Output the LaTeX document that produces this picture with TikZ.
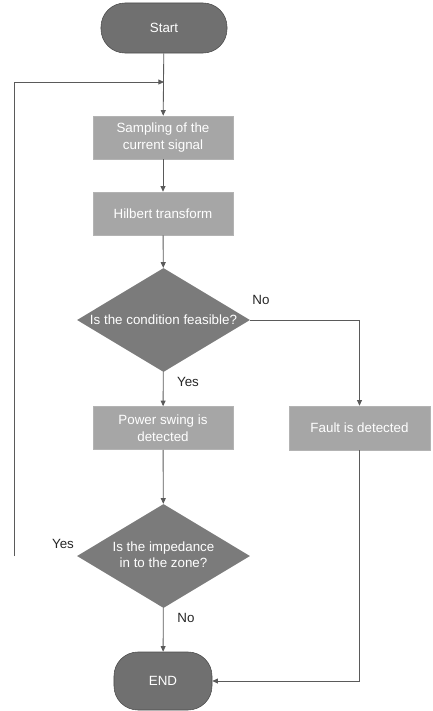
\documentclass[tikz,border=0pt]{standalone}
\usepackage{fontspec}
\setmainfont{Liberation Sans}
\usetikzlibrary{shapes.geometric}
\usetikzlibrary{arrows.meta}

\definecolor{termgray}{HTML}{707070}
\definecolor{boxgray}{HTML}{A6A6A6}
\definecolor{decgray}{HTML}{7B7B7B}
\definecolor{linegray}{HTML}{5A5A5A}

\newcommand{\chartfont}{\fontsize{9.5}{11.8}\selectfont}

\tikzset{
  terminal/.style={draw=black!70, fill=termgray, rounded corners=0.6cm,
    minimum width=3.15cm, minimum height=1.25cm, text=white, font=\chartfont},
  process/.style={fill=boxgray, draw=boxgray!85!white, minimum width=3.5cm,
    minimum height=1.075cm, align=center, text=white, font=\chartfont},
  decision/.style={diamond, fill=decgray, minimum width=4.325cm,
    minimum height=2.6cm, inner sep=0pt, text=white, font=\chartfont},
  flow/.style={draw=linegray, line width=0.6pt, -{Triangle[length=4pt,width=3.5pt]}},
  answer/.style={text=black!85, font=\chartfont}
}

\begin{document}
\begin{tikzpicture}[x=0.025cm, y=-0.025cm]
\useasboundingbox (0,0) rectangle (433,711);

% Start and end of the chart
\node[terminal] (start) at (164,28) {Start};
\node[terminal, minimum width=2.45cm, minimum height=1.45cm] (stop) at (163,681) {END};

% Processing steps
\node[process] (samp) at (163,137.5) {Sampling of the\\current signal};
\node[process] (hilb) at (163,213.5) {Hilbert transform};
\node[process] (swing) at (163,428) {Power swing is\\detected};
\node[process, minimum width=3.525cm, minimum height=1.1cm] (fault) at (359.5,428) {Fault is detected};

% Decisions
\node[decision] (cond) at (163.5,320) {\makebox[0pt]{Is the condition feasible?}};
\node[decision] (imp) at (163.5,556)
  {\makebox[0pt]{\begin{tabular}{@{}c@{}}Is the impedance\\in to the zone?\end{tabular}}};

% Loop back to the sampling step
\coordinate (join) at (164,82);
\coordinate (loopend) at (14,556);

% Connectors
\draw[flow] (start) -- (samp);
\draw[flow] (loopend) |- (join);
\draw[flow] (samp) -- (hilb);
\draw[flow] (hilb) -- (cond);
\draw[flow] (cond) -- (swing);
\draw[flow] (cond.east) -| (fault.north);
\draw[flow] (swing) -- (imp);
\draw[flow] (imp) -- (stop);
\draw[flow] (fault.south) |- (stop.east);

% Branch labels
\node[answer] (yes1) at (188,382) {Yes};
\node[answer] (no1) at (261,300) {No};
\node[answer] (yes2) at (63,544) {Yes};
\node[answer] (no2) at (186,618) {No};

\end{tikzpicture}
\end{document}
